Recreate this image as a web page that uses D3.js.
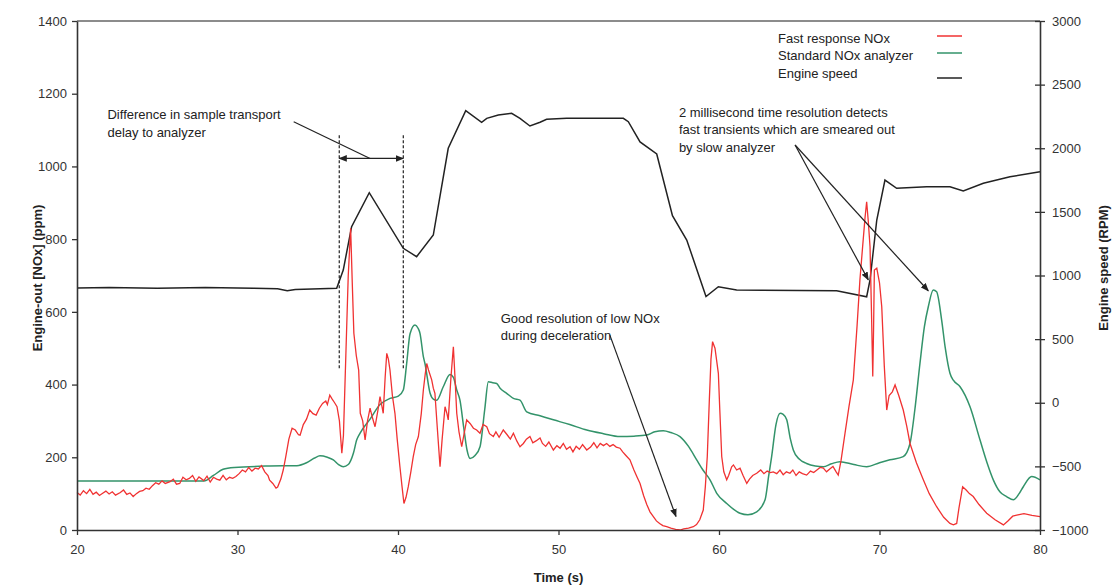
<!DOCTYPE html>
<html>
<head>
<meta charset="utf-8">
<script src="https://cdn.jsdelivr.net/npm/d3@7"></script>
<style>
  body { margin: 0; background: #fff; }
  text { font-family: "Liberation Sans", Arial, sans-serif; }
</style>
</head>
<body>
<svg id="chart" width="1113" height="586"></svg>
<script>
// [time s, NOx ppm]
var fastNox = [[20,103],[20.2,96],[20.4,108],[20.6,100],[20.8,112],[21,98],[21.2,104],[21.4,95],[21.6,101],[21.8,107],
  [22,99],[22.2,105],[22.4,96],[22.7,103],[22.9,110],[23.1,98],[23.3,102],[23.5,92],[23.7,100],[23.9,106],
  [24.1,108],[24.3,115],[24.5,112],[24.7,122],[24.9,130],[25.1,126],[25.3,135],[25.5,128],[25.8,133],[26,140],
  [26.2,126],[26.4,128],[26.6,145],[26.8,138],[27,142],[27.2,150],[27.4,134],[27.6,146],[27.9,136],[28.1,148],
  [28.3,132],[28.5,145],[28.7,140],[28.9,137],[29.1,150],[29.3,138],[29.5,145],[29.7,142],[29.9,147],[30.1,155],
  [30.3,165],[30.5,160],[30.7,172],[30.9,162],[31.1,170],[31.3,168],[31.5,177],[31.7,160],[31.9,150],[32,137],
  [32.2,128],[32.4,115],[32.5,118],[32.7,140],[32.85,165],[33,200],[33.2,250],[33.4,280],[33.6,275],[33.8,262],
  [33.9,261],[34.1,290],[34.3,305],[34.5,330],[34.7,320],[34.9,316],[35.1,335],[35.3,348],[35.5,355],[35.6,345],
  [35.75,371],[35.9,360],[36.05,350],[36.2,339],[36.35,300],[36.5,211],[36.6,260],[36.75,480],[36.9,700],[37.05,830],
  [37.15,680],[37.25,541],[37.4,480],[37.55,440],[37.65,321],[37.8,300],[37.95,248],[38.1,300],[38.26,335],[38.4,310],
  [38.57,284],[38.75,330],[38.88,367],[39,340],[39.08,321],[39.2,420],[39.3,486],[39.4,470],[39.5,440],[39.65,370],
  [39.81,321],[39.95,250],[40.12,174],[40.25,120],[40.37,73],[40.5,90],[40.64,119],[40.8,160],[40.95,202],[41.1,235],
  [41.27,257],[41.45,320],[41.58,385],[41.7,430],[41.79,458],[41.9,440],[42.1,413],[42.2,390],[42.3,376],[42.45,280],
  [42.62,174],[42.75,250],[42.93,339],[43.05,320],[43.13,303],[43.3,420],[43.45,504],[43.55,420],[43.66,321],[43.8,270],
  [43.97,229],[44.1,260],[44.28,303],[44.49,293],[44.7,280],[44.9,275],[45.11,266],[45.3,290],[45.53,284],[45.7,265],
  [45.94,257],[46.1,270],[46.3,255],[46.56,275],[46.8,262],[47,250],[47.19,266],[47.4,245],[47.6,229],[47.81,238],
  [48,250],[48.22,257],[48.4,240],[48.6,245],[48.85,253],[49,238],[49.2,230],[49.4,242],[49.68,220],[49.9,232],
  [50.1,225],[50.3,238],[50.5,222],[50.72,229],[50.9,215],[51.1,230],[51.3,222],[51.5,235],[51.76,220],[52,228],
  [52.2,240],[52.4,226],[52.6,238],[52.8,232],[53,238],[53.2,230],[53.4,235],[53.6,228],[53.83,225],[54,215],
  [54.2,205],[54.45,193],[54.7,165],[54.9,145],[55.08,128],[55.3,95],[55.5,70],[55.7,50],[55.91,37],[56.1,25],
  [56.3,18],[56.5,12],[56.74,9],[57,5],[57.3,2],[57.57,0],[57.8,3],[58.1,5],[58.4,9],[58.6,15],
  [58.8,28],[59.02,55],[59.15,120],[59.27,202],[59.4,360],[59.5,470],[59.6,518],[59.75,500],[59.96,431],[60.05,330],
  [60.17,202],[60.3,160],[60.48,138],[60.6,150],[60.79,174],[60.9,179],[61.1,165],[61.31,170],[61.5,150],[61.73,128],
  [61.9,140],[62.1,150],[62.35,156],[62.6,165],[62.8,155],[63,162],[63.2,158],[63.38,160],[63.6,155],[63.8,165],
  [64,152],[64.2,160],[64.42,156],[64.6,165],[64.8,150],[65,160],[65.2,155],[65.46,151],[65.7,162],[65.9,158],
  [66.1,165],[66.3,172],[66.5,170],[66.7,160],[66.9,168],[67.1,175],[67.3,160],[67.43,151],[67.6,190],[67.85,266],
  [68.1,340],[68.37,413],[68.6,560],[68.78,688],[68.95,780],[69.1,860],[69.2,903],[69.3,850],[69.41,779],[69.5,600],
  [69.58,422],[69.63,550],[69.68,715],[69.83,720],[70,680],[70.14,614],[70.3,450],[70.45,330],[70.6,370],[70.8,380],
  [70.97,399],[71.2,370],[71.48,330],[71.7,285],[71.9,238],[72.3,185],[72.73,138],[73.1,100],[73.56,64],[74,35],
  [74.39,18],[74.6,14],[74.81,18],[74.95,60],[75.18,119],[75.4,110],[75.6,100],[75.84,92],[76.2,70],[76.68,46],
  [77.2,28],[77.72,14],[78,25],[78.3,38],[78.55,41],[79,45],[79.5,40],[80,37]]

var standardNox = [[20,135],[27.9,135],[28.5,150],[29.1,167],[29.8,172],[32,176],[33.7,177],[34.3,185],[34.8,198],[35.14,204],
  [35.6,200],[35.97,193],[36.3,180],[36.59,174],[36.9,180],[37.22,211],[37.43,248],[37.63,266],[38.26,305],[38.88,345],
  [39.5,362],[40.02,368],[40.33,385],[40.54,458],[40.75,540],[41.06,564],[41.25,555],[41.37,541],[41.58,477],[41.68,458],
  [42,376],[42.2,360],[42.41,357],[42.82,394],[43.24,428],[43.45,420],[43.66,385],[43.86,357],[44.1,280],[44.3,220],
  [44.49,197],[44.8,205],[45.11,229],[45.4,330],[45.63,408],[45.9,405],[46.15,403],[46.36,390],[46.77,376],[47.19,362],
  [47.6,357],[48.02,325],[48.85,314],[49.68,303],[50.7,290],[51.76,275],[52.8,265],[53.83,257],[54.7,258],[55.5,261],
  [56,270],[56.53,273],[57,268],[57.57,257],[58.1,230],[58.61,193],[59,165],[59.44,138],[59.86,101],[60.48,73],
  [61.31,46],[61.8,42],[62.35,50],[62.87,83],[63.1,150],[63.28,202],[63.55,290],[63.81,321],[64,318],[64.22,303],
  [64.45,250],[64.63,220],[65,195],[65.46,183],[66,176],[66.5,174],[67,182],[67.54,188],[68.4,180],[69.2,174],
  [70,185],[70.65,193],[71.48,202],[71.9,238],[72.2,330],[72.52,458],[72.8,560],[73.04,614],[73.35,660],[73.56,655],
  [73.87,578],[74.1,500],[74.39,431],[74.6,412],[75.02,394],[75.64,339],[76.26,248],[76.7,185],[77.09,138],[77.5,105],
  [77.92,92],[78.34,83],[78.7,100],[78.96,119],[79.48,147],[80,138]]

// [time s, engine speed RPM]
var engineSpeed = [[20,902],[22,905],[25,900],[28,905],[31,900],[32.5,895],[33.1,880],[33.6,890],[36.18,899],[36.59,1043],
  [37.11,1384],[38.21,1651],[40.33,1214],[41.16,1148],[42.2,1318],[43.13,2000],[44.22,2295],[45.21,2204],[45.53,2235],[46.25,2261],
  [47.08,2275],[47.6,2235],[48.22,2175],[48.85,2204],[49.26,2227],[50.51,2235],[54.04,2235],[54.35,2209],[55.08,2050],[56.12,1955],
  [57.1,1470],[57.99,1279],[59.19,835],[59.96,912],[61.1,886],[67.33,881],[69.2,833],[69.41,965],[69.83,1436],[70.34,1750],
  [71.07,1685],[72.94,1698],[74.39,1698],[75.22,1664],[76.47,1725],[78.13,1776],[80,1816]]

var timeTicks = [20, 30, 40, 50, 60, 70, 80]
var noxTicks = [0, 200, 400, 600, 800, 1000, 1200, 1400]
var rpmTicks = [-1000, -500, 0, 500, 1000, 1500, 2000, 2500, 3000]
var legendNames = ["Fast response NOx", "Standard NOx analyzer", "Engine speed"]
var lineColors = ["#f03232", "#33936a", "#222222"]

var svg = d3.select("#chart")
// plot box in pixels (window.top is reserved, so no "top" here)
var plotLeft = 77, plotRight = 1040, plotTop = 21, plotBottom = 530

var x = d3.scaleLinear().domain([20, 80]).range([plotLeft, plotRight])
var yL = d3.scaleLinear().domain([0, 1400]).range([plotBottom, plotTop])
var yR = d3.scaleLinear().domain([-1000, 3000]).range([plotBottom, plotTop])

svg.append("defs").append("marker")
  .attr("id", "arrow")
  .attr("viewBox", "0 0 10 10")
  .attr("refX", 9).attr("refY", 5)
  .attr("markerWidth", 7).attr("markerHeight", 7)
  .attr("orient", "auto-start-reverse")
  .append("path").attr("d", "M0,1 L10,5 L0,9 z").attr("fill", "#222")

// top frame line
svg.append("line")
  .attr("x1", plotLeft).attr("x2", plotRight).attr("y1", plotTop).attr("y2", plotTop)
  .attr("stroke", "#666").attr("stroke-width", 1.6)

var lineFor = function(yScale) {
  return d3.line().x(d => x(d[0])).y(d => yScale(d[1]))
}

svg.append("path").datum(engineSpeed)
  .attr("d", lineFor(yR))
  .attr("fill", "none").attr("stroke", lineColors[2]).attr("stroke-width", 1.5)

svg.append("path").datum(standardNox)
  .attr("d", lineFor(yL).curve(d3.curveMonotoneX))
  .attr("fill", "none").attr("stroke", lineColors[1]).attr("stroke-width", 1.5)

svg.append("path").datum(fastNox)
  .attr("d", lineFor(yL))
  .attr("fill", "none").attr("stroke", lineColors[0]).attr("stroke-width", 1.3)

// axes
function styleAxis(g) {
  g.select(".domain").attr("stroke", "#333").attr("stroke-width", 1.6)
  g.selectAll(".tick line").attr("stroke", "#333").attr("stroke-width", 1.3)
  g.selectAll(".tick text").attr("fill", "#333").style("font-size", "13px")
    .style("font-family", "'Liberation Sans', Arial, sans-serif")
}

svg.append("g")
  .attr("transform", "translate(0," + plotBottom + ")")
  .call(d3.axisBottom(x).tickValues(timeTicks).tickFormat(d3.format("d")).tickSize(5).tickPadding(10).tickSizeOuter(0))
  .call(styleAxis)

svg.append("g")
  .attr("transform", "translate(" + plotLeft + ",0)")
  .call(d3.axisLeft(yL).tickValues(noxTicks).tickFormat(d3.format("d")).tickSize(5).tickPadding(5).tickSizeOuter(0))
  .call(styleAxis)

svg.append("g")
  .attr("transform", "translate(" + plotRight + ",0)")
  .call(d3.axisRight(yR).tickValues(rpmTicks).tickFormat(d3.format("d")).tickSize(5).tickPadding(7).tickSizeOuter(0))
  .call(styleAxis)
  .call(g => g.selectAll(".tick line").attr("x1", -5))

// axis titles
svg.append("text")
  .attr("x", (plotLeft + plotRight) / 2).attr("y", 582)
  .attr("text-anchor", "middle")
  .style("font-size", "13px").style("font-weight", "bold").attr("fill", "#222")
  .text("Time (s)")

svg.append("text")
  .attr("transform", "translate(42,278) rotate(-90)")
  .attr("text-anchor", "middle")
  .style("font-size", "13px").style("font-weight", "bold").attr("fill", "#222")
  .text("Engine-out [NOx] (ppm)")

svg.append("text")
  .attr("transform", "translate(1108,268) rotate(-90)")
  .attr("text-anchor", "middle")
  .style("font-size", "13px").style("font-weight", "bold").attr("fill", "#222")
  .text("Engine speed (RPM)")

// legend
var legend = svg.append("g")
legendNames.forEach(function(name, i) {
  var ly = [38, 55, 73][i]
  legend.append("text")
    .attr("x", 778).attr("y", ly + 4.5)
    .style("font-size", "13px").attr("fill", "#222")
    .text(name)
  legend.append("line")
    .attr("x1", 937).attr("x2", 962)
    .attr("y1", i == 2 ? ly + 5 : ly - 2).attr("y2", i == 2 ? ly + 5 : ly - 2)
    .attr("stroke", lineColors[i]).attr("stroke-width", 1.5)
})

// annotations
var ann = svg.append("g").attr("fill", "#222").style("font-size", "13px")

function multiText(tx, ty, lines) {
  lines.forEach(function(s, i) {
    ann.append("text").attr("x", x(tx)).attr("y", yL(ty) + i * 17.5).text(s)
  })
}

multiText(21.9, 1130, ["Difference in sample transport", "delay to analyzer"])
multiText(46.4, 570, ["Good resolution of low NOx", "during deceleration"])
multiText(57.5, 1136, ["2 millisecond time resolution detects", "fast transients which are smeared out", "by slow analyzer"])

// transport delay markers
var delayMarks = [36.34, 40.33]
delayMarks.forEach(function(t) {
  ann.append("line")
    .attr("x1", x(t)).attr("x2", x(t))
    .attr("y1", yL(1086)).attr("y2", yL(445))
    .attr("stroke", "#222").attr("stroke-width", 1.2)
    .attr("stroke-dasharray", "3,2")
})
ann.append("line")
  .attr("x1", x(delayMarks[0])).attr("x2", x(delayMarks[1]))
  .attr("y1", yL(1022)).attr("y2", yL(1022))
  .attr("stroke", "#222").attr("stroke-width", 1.2)
  .attr("marker-start", "url(#arrow)").attr("marker-end", "url(#arrow)")

function pointer(x1, y1, x2, y2, head) {
  var l = ann.append("line")
    .attr("x1", x(x1)).attr("y1", yL(y1))
    .attr("x2", x(x2)).attr("y2", yL(y2))
    .attr("stroke", "#222").attr("stroke-width", 1.2)
  if (head) l.attr("marker-end", "url(#arrow)")
}

pointer(33.5, 1123, 38.26, 1022, false)
pointer(53.2, 536, 57.32, 37, true)
pointer(64.74, 1059, 69.3, 688, true)
pointer(64.74, 1059, 73.04, 658, true)
</script>
</body>
</html>
